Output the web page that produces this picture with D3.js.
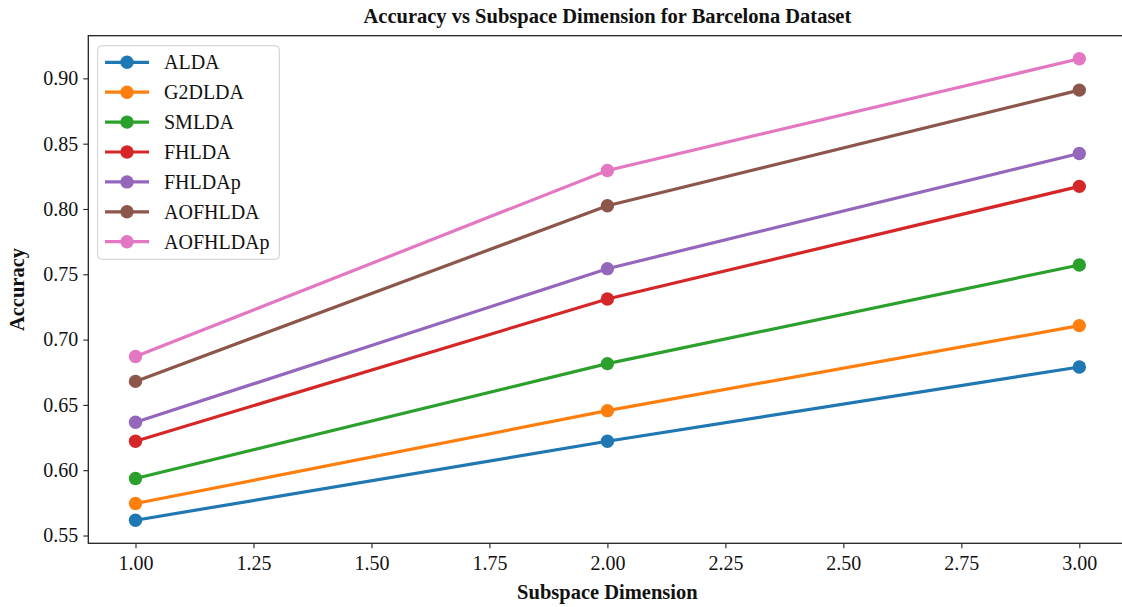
<!DOCTYPE html>
<html>
<head>
<meta charset="utf-8">
<script src="https://cdn.jsdelivr.net/npm/d3@7"></script>
<style>
  html, body { margin: 0; padding: 0; background: #fff; }
  svg { display: block; font-family: "Liberation Serif", "Times New Roman", serif; }
</style>
</head>
<body>
<svg id="chart" width="1122" height="607"></svg>
<script>
const dims = [1, 2, 3];
const seriesNames = ["ALDA", "G2DLDA", "SMLDA", "FHLDA", "FHLDAp", "AOFHLDA", "AOFHLDAp"];
const ALDA     = [0.5617, 0.6222, 0.6790];
const G2DLDA   = [0.5745, 0.6456, 0.7107];
const SMLDA    = [0.5936, 0.6816, 0.7571];
const FHLDA    = [0.6222, 0.7311, 0.8173];
const FHLDAp   = [0.6367, 0.7543, 0.8425];
const AOFHLDA  = [0.6680, 0.8025, 0.8910];
const AOFHLDAp = [0.6871, 0.8295, 0.9150];
const colors = ["#1f77b4", "#ff7f0e", "#2ca02c", "#d62728", "#9467bd", "#8c564b", "#e377c2"];
const xTicks = [1.00, 1.25, 1.50, 1.75, 2.00, 2.25, 2.50, 2.75, 3.00];
const yTicks = [0.55, 0.60, 0.65, 0.70, 0.75, 0.80, 0.85, 0.90];
const title = "Accuracy vs Subspace Dimension for Barcelona Dataset";
const xLabel = "Subspace Dimension";
const yLabel = "Accuracy";

(function () {
const values = [ALDA, G2DLDA, SMLDA, FHLDA, FHLDAp, AOFHLDA, AOFHLDAp];
const series = seriesNames.map((name, i) => ({ name, color: colors[i], vals: values[i] }));

const svg = d3.select("#chart");
const mLeft = 88.3, mRight = 1126.5, mTop = 35.7, mBottom = 543.3;

const allVals = values.flat();
const yMin = d3.min(allVals), yMax = d3.max(allVals);
const yPad = (yMax - yMin) * 0.05;
const x = d3.scaleLinear().domain([0.9, 3.1]).range([mLeft, mRight]);
const y = d3.scaleLinear().domain([yMin - yPad, yMax + yPad]).range([mBottom, mTop]);

const xAxis = d3.axisBottom(x).tickValues(xTicks).tickFormat(d3.format(".2f")).tickSize(5).tickPadding(5);
const yAxis = d3.axisLeft(y).tickValues(yTicks).tickFormat(d3.format(".2f")).tickSize(5).tickPadding(5);

const gx = svg.append("g").attr("transform", `translate(0,${mBottom})`).call(xAxis);
const gy = svg.append("g").attr("transform", `translate(${mLeft},0)`).call(yAxis);
[gx, gy].forEach(g => {
  g.select(".domain").remove();
  g.selectAll(".tick line").attr("stroke", "#222").attr("stroke-width", 1.1);
  g.selectAll(".tick text").attr("fill", "#111").style("font-size", "20px")
    .style("font-family", '"Liberation Serif", "Times New Roman", serif');
});
gx.selectAll(".tick text").attr("dy", "0.85em");

svg.append("rect").attr("x", mLeft).attr("y", mTop).attr("width", mRight - mLeft).attr("height", mBottom - mTop)
  .attr("fill", "none").attr("stroke", "#222").attr("stroke-width", 1.3);

const line = d3.line().x((d, i) => x(dims[i])).y(d => y(d));
const plot = svg.append("g");
series.forEach(s => {
  plot.append("path").datum(s.vals).attr("d", line)
    .attr("fill", "none").attr("stroke", s.color).attr("stroke-width", 3.2);
  plot.selectAll(null).data(s.vals).enter().append("circle")
    .attr("cx", (d, i) => x(dims[i])).attr("cy", d => y(d)).attr("r", 6.7)
    .attr("fill", s.color);
});

svg.append("text").attr("x", (mLeft + mRight) / 2).attr("y", 23)
  .attr("text-anchor", "middle").style("font-size", "20.5px").style("font-weight", "bold")
  .attr("fill", "#111").text(title);

svg.append("text").attr("x", (mLeft + mRight) / 2).attr("y", 599)
  .attr("text-anchor", "middle").style("font-size", "20.5px").style("font-weight", "bold")
  .attr("fill", "#111").text(xLabel);
svg.append("text").attr("transform", `translate(24,${(mTop + mBottom) / 2}) rotate(-90)`)
  .attr("text-anchor", "middle").style("font-size", "20.5px").style("font-weight", "bold")
  .attr("fill", "#111").text(yLabel);

const lg = svg.append("g");
lg.append("rect").attr("x", 97.7).attr("y", 45.7).attr("width", 181.6).attr("height", 213.6)
  .attr("rx", 4).attr("fill", "#fff").attr("fill-opacity", 0.8).attr("stroke", "#ccc").attr("stroke-width", 1);
series.forEach((s, i) => {
  const cy = 62.3 + i * 29.9;
  lg.append("line").attr("x1", 105).attr("x2", 149).attr("y1", cy).attr("y2", cy)
    .attr("stroke", s.color).attr("stroke-width", 3.2);
  lg.append("circle").attr("cx", 127).attr("cy", cy).attr("r", 6.7).attr("fill", s.color);
  lg.append("text").attr("x", 164).attr("y", cy).attr("dy", "0.35em")
    .style("font-size", "20px").attr("fill", "#111").text(s.name);
});
})();
</script>
</body>
</html>
